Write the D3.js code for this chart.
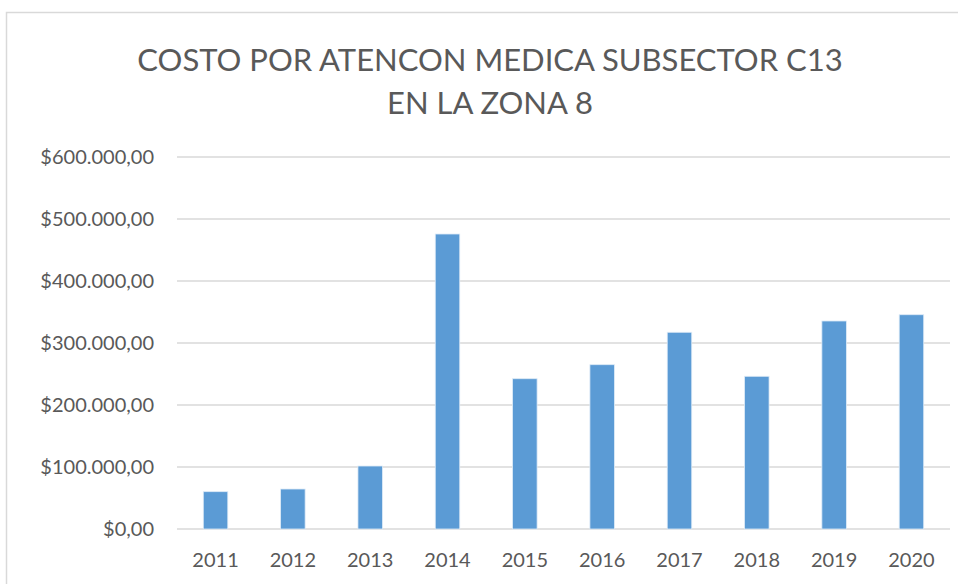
<!DOCTYPE html>
<html>
<head>
<meta charset="utf-8">
<script src="https://cdn.jsdelivr.net/npm/d3@7"></script>
<style>
  body { margin: 0; background: #fff; }
  text { font-family: Lato, 'Open Sans', sans-serif; fill: #595959; }
</style>
</head>
<body>
<div id="chart"></div>
<script>
const years = ['2011', '2012', '2013', '2014', '2015', '2016', '2017', '2018', '2019', '2020'];
const costs = [60200, 64500, 101600, 475800, 242400, 265000, 317300, 246300, 335500, 345600];
const yTicks = [0, 100000, 200000, 300000, 400000, 500000, 600000];
const titleLines = ['COSTO POR ATENCON MEDICA SUBSECTOR C13', 'EN LA ZONA 8'];

const width = 958;
const height = 584;
const margin = {top: 157, right: 8, bottom: 55, left: 177};

const locale = d3.formatLocale({decimal: ',', thousands: '.', grouping: [3], currency: ['$', '']});
const money = locale.format('$,.2f');

const svg = d3.select('#chart')
    .append('svg')
    .attr('width', width)
    .attr('height', height);

// outer chart border (runs off the right and bottom edges)
svg.append('rect')
    .attr('x', 6.5)
    .attr('y', 12.5)
    .attr('width', 1000)
    .attr('height', 700)
    .attr('fill', 'none')
    .attr('stroke', '#d9d9d9')
    .attr('stroke-width', 1.5);

const x = d3.scaleBand()
    .domain(years)
    .range([margin.left, width - margin.right])
    .paddingInner(0.683)
    .paddingOuter(0.34);

const y = d3.scaleLinear()
    .domain([0, 600000])
    .range([height - margin.bottom, margin.top]);

// gridlines
svg.append('g')
    .selectAll('line')
    .data(yTicks)
    .enter()
    .append('line')
        .attr('x1', margin.left)
        .attr('x2', width - margin.right)
        .attr('y1', d => y(d))
        .attr('y2', d => y(d))
        .attr('stroke', '#d9d9d9')
        .attr('stroke-width', 1.5);

// y labels
svg.append('g')
    .selectAll('text')
    .data(yTicks)
    .enter()
    .append('text')
        .attr('x', 154)
        .attr('y', d => y(d))
        .attr('dy', '0.35em')
        .attr('text-anchor', 'end')
        .style('font-size', '20px')
        .text(d => money(d));

// bars
svg.append('g')
    .selectAll('rect')
    .data(costs)
    .enter()
    .append('rect')
        .attr('x', (d, i) => x(years[i]))
        .attr('y', d => y(d))
        .attr('width', x.bandwidth())
        .attr('height', d => y(0) - y(d))
        .attr('fill', '#5b9bd5')
        .attr('stroke', '#deebf7')
        .attr('stroke-width', 0.8);

// x labels
svg.append('g')
    .selectAll('text')
    .data(years)
    .enter()
    .append('text')
        .attr('x', d => x(d) + x.bandwidth() / 2)
        .attr('y', 567)
        .attr('text-anchor', 'middle')
        .style('font-size', '20px')
        .text(d => d);

// title
svg.append('g')
    .selectAll('text')
    .data(titleLines)
    .enter()
    .append('text')
        .attr('x', 490)
        .attr('y', (d, i) => 71 + i * 43)
        .attr('text-anchor', 'middle')
        .style('font-size', '31px')
        .text(d => d);
</script>
</body>
</html>
